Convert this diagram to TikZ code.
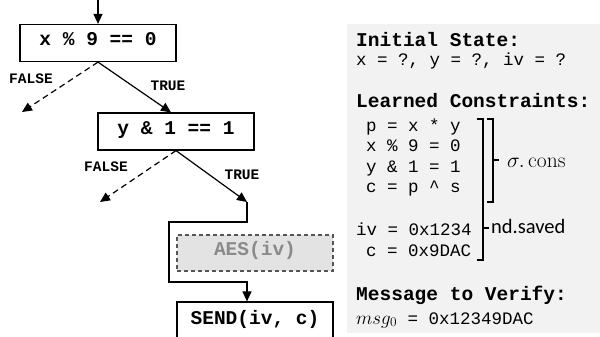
\RequirePackage{fix-cm}
\documentclass[tikz,border=0pt]{standalone}
\usepackage{fontspec}
\setmonofont{Liberation Mono}
\newfontfamily\calib{Carlito}
\usetikzlibrary{arrows.meta,calc}
\definecolor{panelgray}{HTML}{F2F2F2}
\definecolor{aesfill}{HTML}{E3E3E3}
\definecolor{aesline}{HTML}{555555}
\definecolor{aestext}{HTML}{8A8A8A}
\tikzset{
  box/.style={draw, line width=1.2pt, minimum width=156pt, minimum height=37pt, inner sep=0pt,
    font=\fontsize{19.5}{22}\selectfont\ttfamily\bfseries, text height=0.65em, text depth=0.15em},
  aesbox/.style={box, draw=aesline, dash pattern=on 4pt off 3pt, fill=aesfill, text=aestext, minimum height=36pt},
  lbl/.style={font=\fontsize{14.5}{16}\selectfont\ttfamily\bfseries, inner sep=0pt},
  arr/.style={line width=1.2pt, -{Triangle[length=10pt,width=9pt]}},
  darr/.style={arr, dash pattern=on 6pt off 4pt},
  hdr/.style={anchor=base west, inner sep=0pt, font=\fontsize{19.5}{22}\selectfont\ttfamily\bfseries},
  txt/.style={anchor=base west, inner sep=0pt, font=\fontsize{17.5}{20}\selectfont\ttfamily},
  brk/.style={line width=1.3pt},
}
\begin{document}
\begin{tikzpicture}[x=1pt,y=-1pt]
\clip (0,0) rectangle (600,337);
% panel
\fill[panelgray] (347,24) rectangle (600,333);
% flow chart
\node[box] (c1) at (98,43) {x \% 9 == 0};
\node[box] (c2) at (176,131.5) {y \& 1 == 1};
\node[aesbox] (aes) at (255,253) {AES(iv)};
\node[box, minimum height=40pt] (send) at (255,322) {SEND(iv, c)};
\coordinate (top) at (98,0);
\coordinate (f1) at (22,112);
\coordinate (f2) at (100,202);
\coordinate (t2) at (247,202);
\draw[arr] (top) -- (c1);
\draw[darr] (c1.south) -- (f1);
\draw[arr] (c1.south) -- ($(c2.north)+(-5,0)$);
\draw[darr] (c2.south) -- (f2);
\draw[arr] (c2.south) -- (t2);
\draw[arr] (t2) -- (247,222) -- (169,222) -- (169,282) -- (247,282) -- (send.north -| t2);
\node[lbl] (fl1) at (31,79) {FALSE};
\node[lbl] (tl1) at (168,86) {TRUE};
\node[lbl] (fl2) at (106,167) {FALSE};
\node[lbl] (tl2) at (242,175) {TRUE};
% panel text
\node[hdr] (h1) at (356,47) {Initial State:};
\node[txt] (s1) at (356,66) {x = ?, y = ?, iv = ?};
\node[hdr] (h2) at (356,107) {Learned Constraints:};
\node[txt] (k1) at (366,131) {p = x * y};
\node[txt] (k2) at (366,151.5) {x \% 9 = 0};
\node[txt] (k3) at (366,172) {y \& 1 = 1};
\node[txt] (k4) at (366,192.5) {c = p \textasciicircum{} s};
\node[txt] (k5) at (356,235) {iv = 0x1234};
\node[txt] (k6) at (366,256) {c = 0x9DAC};
\node[hdr] (h3) at (356,300) {Message to Verify:};
\node[txt] (m1) at (356,324) {\fontsize{19}{20}\selectfont$msg_0$\fontsize{17.5}{20}\selectfont{} = 0x12349DAC};
% brackets
\draw[brk] (487,119) -- (493,119) -- (493,202) -- (487,202);
\draw[brk] (493,160) -- (499,160);
\node[anchor=base west, inner sep=0pt, font=\fontsize{21.5}{24}\selectfont] (sig) at (507,167) {$\sigma.\,\mathrm{cons}$};
\draw[brk] (477,119) -- (483,119) -- (483,260) -- (477,260);
\draw[brk] (483,228) -- (489,228);
\node[anchor=base west, inner sep=0pt, font=\calib\fontsize{20.5}{24}\selectfont] (nd) at (491,233) {nd.saved};
\end{tikzpicture}
\end{document}
